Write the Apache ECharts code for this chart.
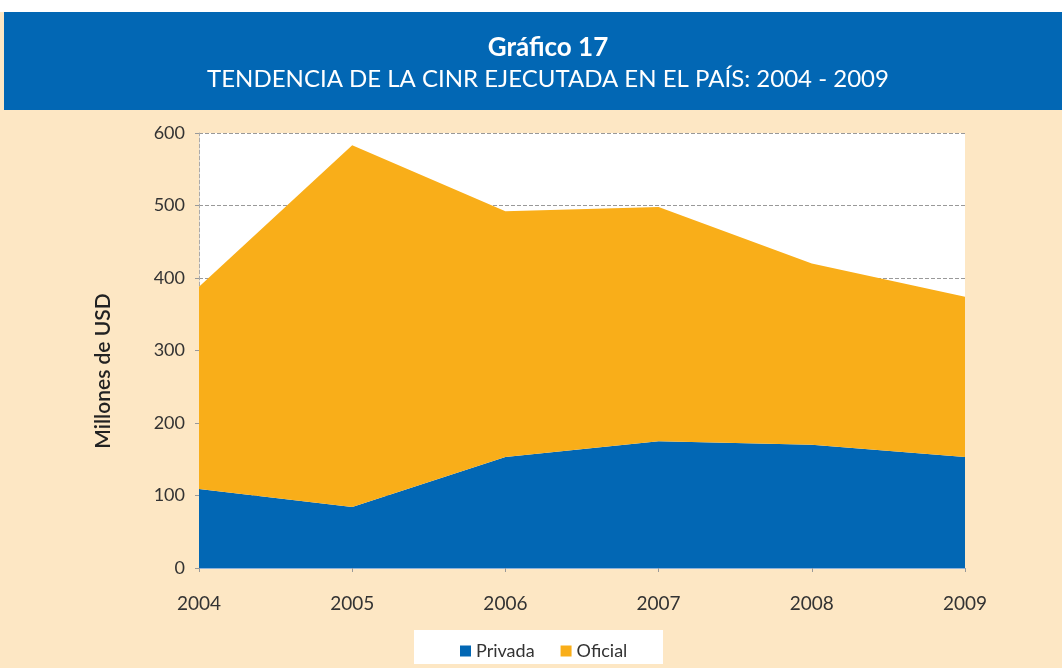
<!DOCTYPE html>
<html>
<head>
<meta charset="utf-8">
<script src="https://cdn.jsdelivr.net/npm/echarts@6/dist/echarts.min.js"></script>
<style>
  html, body { margin: 0; padding: 0; background: #fde7c4; }
  #chart { width: 1062px; height: 668px; }
</style>
</head>
<body>
<div id="chart"></div>
<script>
// años y valores (millones de USD)
var years = ['2004', '2005', '2006', '2007', '2008', '2009'];
var privada = [109, 84, 153, 175, 170, 153];
var oficial = [279, 499, 339, 323, 250, 221];
var yTicks = [0, 100, 200, 300, 400, 500, 600];

var chart = echarts.init(document.getElementById('chart'));
var fontFam = 'Lato, "Open Sans", sans-serif';

chart.setOption({
    backgroundColor: '#fde7c4',
    textStyle: { fontFamily: fontFam },
    graphic: [
        { type: 'rect', left: 0, top: 0, shape: { width: 1062, height: 12 }, style: { fill: '#ffffff' }, z: 0 },
        { type: 'rect', left: 4, top: 12, shape: { width: 1058, height: 98 }, style: { fill: '#0267b4' }, z: 0 },
        // fondo del legend
        { type: 'rect', left: 414, top: 630, shape: { width: 249, height: 34 }, style: { fill: '#ffffff' }, z: 0 },
        // titulo del eje y
        {
            type: 'text', x: 103, y: 371, rotation: Math.PI / 2, z: 5,
            style: {
                text: 'Millones de USD', fill: '#222', font: '600 21px ' + fontFam,
                align: 'center', verticalAlign: 'middle'
            }
        }
    ],
    title: {
        text: 'Gráfico 17',
        subtext: 'TENDENCIA DE LA CINR EJECUTADA EN EL PAÍS: 2004 - 2009',
        left: 543,
        textAlign: 'center',
        top: 30,
        itemGap: 6,
        textStyle: { color: '#fff', fontSize: 26, fontWeight: 'bold', fontFamily: fontFam },
        subtextStyle: { color: '#fff', fontSize: 24, fontFamily: fontFam }
    },
    legend: {
        data: ['Privada', 'Oficial'],
        left: 455,
        top: 637,
        icon: 'rect',
        itemWidth: 11,
        itemHeight: 11,
        itemGap: 26,
        textStyle: { fontSize: 18, color: '#333', fontFamily: fontFam }
    },
    grid: {
        left: 199,
        right: 97,
        top: 133,
        bottom: 100,
        show: true,
        backgroundColor: '#ffffff',
        borderWidth: 0
    },
    xAxis: {
        type: 'category',
        data: years,
        boundaryGap: false,
        axisLine: { lineStyle: { color: '#8fb3da', width: 1 } },
        axisTick: { show: true, length: 6, lineStyle: { color: '#999', type: 'dashed' } },
        axisLabel: { margin: 26, fontSize: 19, color: '#333' }
    },
    yAxis: {
        type: 'value',
        min: 0,
        max: 600,
        interval: 100,
        axisLine: { show: true, lineStyle: { color: '#aaa', type: 'dashed' } },
        axisTick: { show: true, length: 6, lineStyle: { color: '#999', type: 'dashed' } },
        axisLabel: {
            margin: 14, fontSize: 18, color: '#333',
            formatter: function (v) { return yTicks.indexOf(v) >= 0 ? String(v) : ''; }
        },
        splitLine: { show: true, lineStyle: { color: '#999', type: 'dashed' } }
    },
    series: [{
        name: 'Privada',
        type: 'line',
        stack: 'total',
        data: privada,
        symbol: 'none',
        lineStyle: { width: 0 },
        itemStyle: { color: '#0267b4' },
        areaStyle: { color: '#0267b4', opacity: 1 },
        z: 3
    }, {
        name: 'Oficial',
        type: 'line',
        stack: 'total',
        data: oficial,
        symbol: 'none',
        lineStyle: { width: 0 },
        itemStyle: { color: '#f9ae19' },
        areaStyle: { color: '#f9ae19', opacity: 1 },
        z: 3
    }]
});
</script>
</body>
</html>
